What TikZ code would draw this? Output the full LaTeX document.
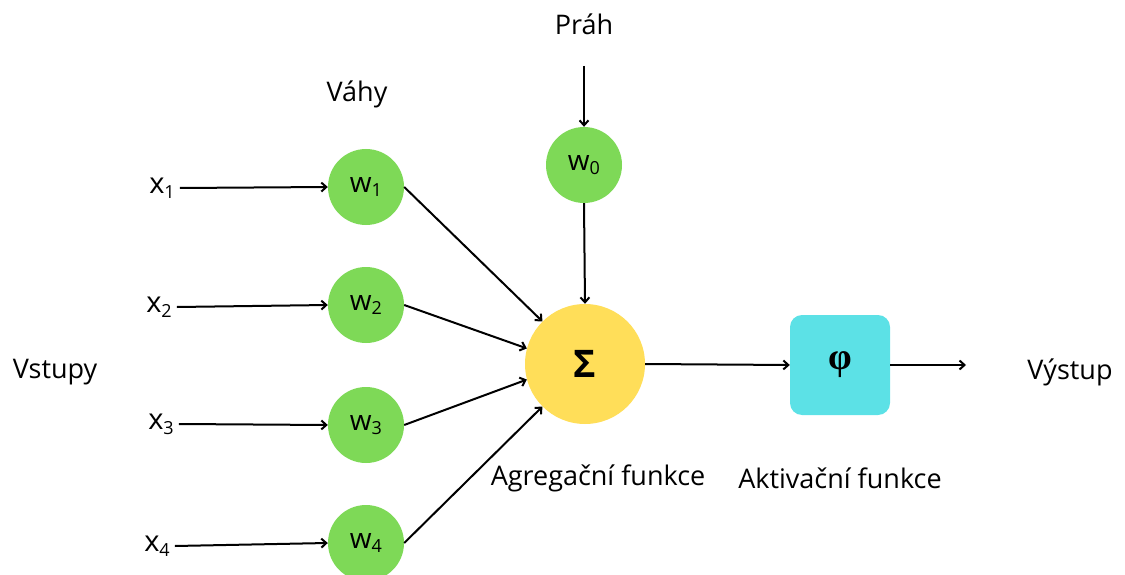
\documentclass[tikz,border=0pt]{standalone}
\usepackage{fontspec}
\setmainfont{Open Sans}
\newfontfamily\phifont{Liberation Serif}
\usetikzlibrary{arrows.meta}
\definecolor{wgreen}{HTML}{7ED957}
\definecolor{sumyellow}{HTML}{FFDE59}
\definecolor{actcyan}{HTML}{5CE1E6}
\newcommand{\sbs}[1]{\raisebox{-0.3ex}{\fontsize{18}{18}\selectfont #1}}
\tikzset{
  weight/.style={circle, fill=wgreen, minimum size=76pt, inner sep=0pt, font=\fontsize{28}{28}\selectfont},
  sumnode/.style={circle, fill=sumyellow, minimum size=120pt, inner sep=0pt, font=\fontsize{38}{38}\selectfont\bfseries},
  actbox/.style={rectangle, rounded corners=12pt, fill=actcyan, minimum width=100pt, minimum height=100pt, inner sep=0pt, font=\fontsize{38}{38}\selectfont\phifont\bfseries},
  lbl/.style={font=\fontsize{27}{27}\selectfont, inner sep=0pt},
  xlbl/.style={font=\fontsize{29}{29}\selectfont, inner sep=0pt},
  conn/.style={line width=2pt, -{Straight Barb[length=5pt,width=9pt,line width=2pt]}}
}
\begin{document}
\begin{tikzpicture}[x=1pt,y=-1pt]
\useasboundingbox (0,0) rectangle (1125,575);
% input labels
\node[xlbl] (x1) at (162,188) {x\sbs{1}};
\node[xlbl] (x2) at (159,307) {x\sbs{2}};
\node[xlbl] (x3) at (161,424) {x\sbs{3}};
\node[xlbl] (x4) at (157,546) {x\sbs{4}};
% weights
\node[weight] (w1) at (366,187) {w\sbs{1}};
\node[weight] (w2) at (366,305) {w\sbs{2}};
\node[weight] (w3) at (366,425) {w\sbs{3}};
\node[weight] (w4) at (366,543) {w\sbs{4}};
\node[weight] (w0) at (584,165) {w\sbs{0}};
% aggregation and activation
\node[sumnode] (sum) at (585,364) {Σ};
\node[actbox] (act) at (840,365) {φ};
% free ends
\coordinate (thr) at (584,66);
\coordinate (out) at (966,365);
% captions
\node[lbl] (prah) at (584,24) {Práh};
\node[lbl] (vahy) at (357,94) {Váhy};
\node[lbl] (vstupy) at (55,372) {Vstupy};
\node[lbl] (vystup) at (1070,372) {Výstup};
\node[lbl] (agr) at (598,478) {Agregační funkce};
\node[lbl] (akt) at (840,478) {Aktivační funkce};
% connectors
\draw[conn] (x1.east) ++(5,0) coordinate (x1e) -- (w1.west);
\draw[conn] (x2.east) ++(5,0) coordinate (x2e) -- (w2.west);
\draw[conn] (x3.east) ++(5,0) coordinate (x3e) -- (w3.west);
\draw[conn] (x4.east) ++(5,0) coordinate (x4e) -- (w4.west);
\draw[conn] (w1.east) -- (sum.135);
\draw[conn] (w2.east) -- (sum.165);
\draw[conn] (w3.east) -- (sum.195);
\draw[conn] (w4.east) -- (sum.225);
\draw[conn] (thr) -- (w0.north);
\draw[conn] (w0.south) -- (sum.north);
\draw[conn] (sum.east) -- (act.west);
\draw[conn] (act.east) -- (out);
\end{tikzpicture}
\end{document}
